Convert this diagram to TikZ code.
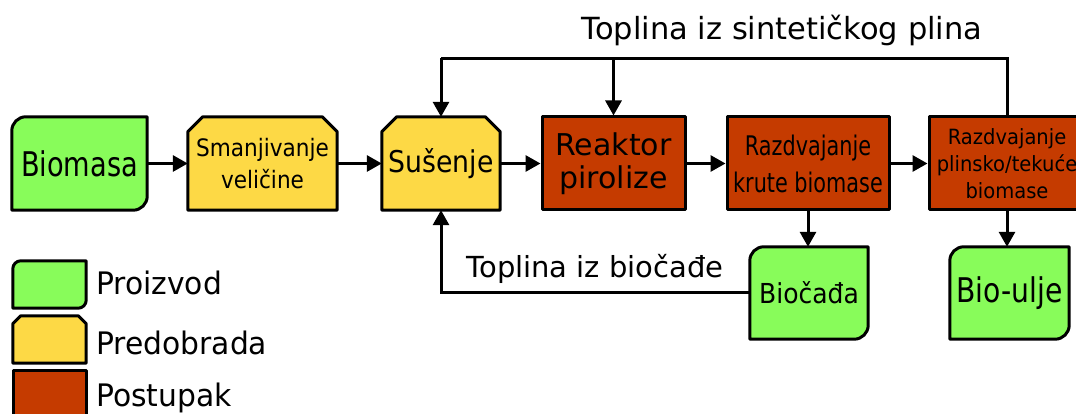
\documentclass[tikz,border=0pt]{standalone}
\usepackage{fontspec}
\setmainfont{DejaVu Sans}
\usetikzlibrary{arrows.meta,calc}
\pgfdeclarelayer{bg}\pgfsetlayers{bg,main}
\definecolor{cgreen}{HTML}{88FC5A}
\definecolor{cyellow}{HTML}{FDD945}
\definecolor{cred}{HTML}{C53B00}
\newcommand\tf[3]{\fontsize{#2}{#3}\selectfont\addfontfeature{FakeStretch=#1}}
\tikzset{
  outl/.style={line width=3pt, line join=round},
  box/.style={inner sep=0pt, minimum height=93pt, align=center},
  redbox/.style={box, draw, outl, fill=cred},
  ln/.style={line width=3pt},
  arr/.style={line width=3pt, -{Triangle[length=15pt,width=16pt]}},
  lbl/.style={inner sep=0pt, anchor=base}
}
\newcommand\prodshape[2]{%
  \draw[outl, fill=cgreen] ([yshift=-#2]#1.north west) arc[start angle=180,end angle=90,radius=#2]
    -- (#1.north east) -- ([yshift=#2]#1.south east) arc[start angle=0,end angle=-90,radius=#2]
    -- (#1.south west) -- cycle;}
\newcommand\preshape[2]{%
  \draw[outl, fill=cyellow] ([yshift=-#2]#1.north west) -- ([xshift=#2]#1.north west)
    -- ([xshift=-#2]#1.north east) -- ([yshift=-#2]#1.north east)
    -- (#1.south east) -- (#1.south west) -- cycle;}
\begin{document}
\begin{tikzpicture}[x=1pt,y=1pt]
\clip (0,0) rectangle (1076,414);
% main row
\node[box, minimum width=135pt, font=\tf{0.8}{34pt}{38pt}] (bio) at (79.5,250.5) {Biomasa};
\node[box, minimum width=149pt, font=\tf{0.9}{24pt}{32pt}] (sm) at (262.5,250.5) {Smanjivanje\\veličine};
\node[box, minimum width=118pt, font=\tf{0.89}{30pt}{34pt}] (su) at (441,250.5) {Sušenje};
\node[redbox, minimum width=143pt, font=\tf{1}{30pt}{33pt}] (re) at (613.5,250.5) {Reaktor\\pirolize};
\node[redbox, minimum width=162pt, font=\tf{0.77}{27pt}{37pt}] (rk) at (808,250.5) {Razdvajanje\\krute biomase};
\node[redbox, minimum width=156pt, font=\tf{0.93}{21pt}{27pt}] (rp) at (1007,250.5) {Razdvajanje\\plinsko/tekuće\\biomase};
\node[box, minimum width=118pt, minimum height=92pt, font=\tf{0.91}{27.5pt}{30pt}] (bc) at (809,121) {Biočađa};
\node[box, minimum width=119pt, minimum height=92pt, font=\tf{0.83}{34pt}{38pt}] (bu) at (1009.5,121) {Bio-ulje};
% legend
\node[box, minimum width=73pt, minimum height=47pt] (lg) at (49.5,129.5) {};
\node[box, minimum width=73pt, minimum height=47pt] (ly) at (49.5,74.5) {};
\node[redbox, minimum width=73pt, minimum height=47pt] (lr) at (49.5,19.5) {};
\node[lbl, anchor=base west, font=\tf{0.96}{31pt}{34pt}] (tlg) at (96,119) {Proizvod};
\node[lbl, anchor=base west, font=\tf{0.96}{31pt}{34pt}] (tly) at (96,59) {Predobrada};
\node[lbl, anchor=base west, font=\tf{0.96}{31pt}{34pt}] (tlr) at (96,7) {Postupak};
% shapes behind
\begin{pgfonlayer}{bg}
\fill[white] (0,0) rectangle (1076,414);
\prodshape{bio}{14pt}
\prodshape{bc}{14pt}
\prodshape{bu}{14pt}
\prodshape{lg}{8pt}
\preshape{sm}{15pt}
\preshape{su}{15pt}
\preshape{ly}{8pt}
\end{pgfonlayer}
% connectors
\draw[arr] (bio.east) -- (sm.west);
\draw[arr] (sm.east) -- (su.west);
\draw[arr] (su.east) -- (re.west);
\draw[arr] (re.east) -- (rk.west);
\draw[arr] (rk.east) -- (rp.west);
\draw[arr] (rk.south) -- (rk.south |- bc.north);
\draw[arr] (rp.south) -- (rp.south |- bu.north);
\draw[arr] (bc.west) -| (su.south);
\coordinate (tr) at ($(rp.north)+(0,57)$);
\coordinate (tl) at (su.north |- tr);
\coordinate (tm) at (re.north |- tr);
\draw[ln] (rp.north) -- (tr) -- (tl);
\draw[arr] (tl) -- (su.north);
\draw[arr] (tm) -- (re.north);
% labels
\node[lbl, font=\tf{1}{30.5pt}{34pt}] (ls) at (782,374) {Toplina iz sintetičkog plina};
\node[lbl, font=\tf{1}{29pt}{32pt}] (lb) at (595,136) {Toplina iz biočađe};
\end{tikzpicture}
\end{document}
